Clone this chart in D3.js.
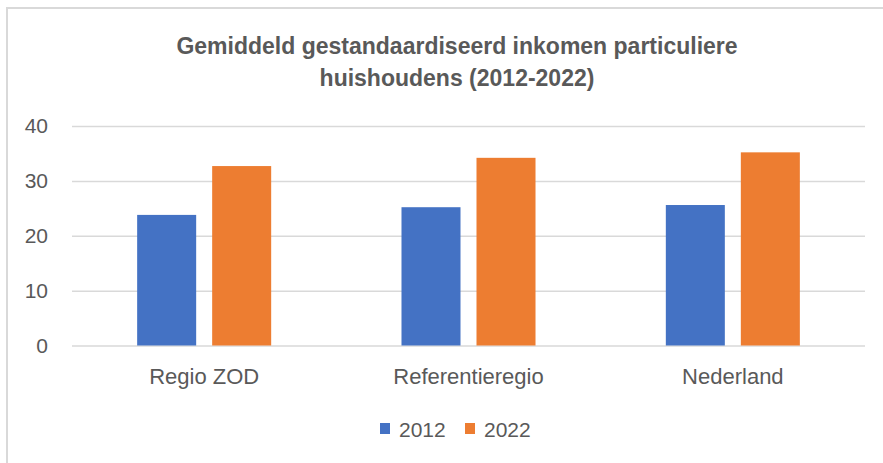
<!DOCTYPE html>
<html>
<head>
<meta charset="utf-8">
<script src="https://cdn.jsdelivr.net/npm/d3@7"></script>
<style>
html,body{margin:0;padding:0;background:#fff;}
svg{display:block;font-family:"Liberation Sans",Arial,sans-serif;}
</style>
</head>
<body>
<svg id="chart" width="883" height="463"></svg>
<script>
const titleLines = ["Gemiddeld gestandaardiseerd inkomen particuliere", "huishoudens (2012-2022)"];
const categories = ["Regio ZOD", "Referentieregio", "Nederland"];
const seriesNames = ["2012", "2022"];
const values2012 = [23.8, 25.2, 25.6];
const values2022 = [32.7, 34.2, 35.2];
const yTicks = [0, 10, 20, 30, 40];
const colors = ["#4472C4", "#ED7D31"];

const seriesValues = [values2012, values2022];
const svg = d3.select("#chart");
const textColor = "#595959";
const gridColor = "#D9D9D9";

// outer frame
svg.append("rect").attr("x", 7).attr("y", 8).attr("width", 1000).attr("height", 1000)
  .attr("fill", "#fff").attr("stroke", gridColor).attr("stroke-width", 2);

const plot = {left: 72, right: 865, top: 126, bottom: 345.5};
const centerX = 457;

const y = d3.scaleLinear().domain([0, 40]).range([plot.bottom, plot.top]);
const x0 = d3.scaleBand().domain(categories).range([plot.left, plot.right]).paddingInner(0.493).paddingOuter(0.2465);
const x1 = d3.scaleBand().domain(seriesNames).range([0, x0.bandwidth()]).paddingInner(0.2133).paddingOuter(0);

// title
const title = svg.append("text").attr("text-anchor", "middle").attr("fill", textColor)
  .attr("font-weight", "bold").attr("font-size", 23);
titleLines.forEach((t, i) => {
  title.append("tspan").attr("x", centerX).attr("y", 53.5 + i * 32.5).text(t);
});

// gridlines + y axis labels
const yAxis = d3.axisLeft(y).tickValues(yTicks).tickSize(-(plot.right - plot.left)).tickPadding(24);
const gy = svg.append("g").attr("transform", `translate(${plot.left},0)`).call(yAxis);
gy.select(".domain").remove();
gy.selectAll(".tick line").attr("stroke", gridColor).attr("stroke-width", 1.5);
gy.selectAll(".tick text").attr("fill", textColor).attr("font-size", 21)
  .attr("font-family", "Liberation Sans, Arial, sans-serif");

// bars
const groups = svg.append("g").selectAll("g").data(categories).join("g")
  .attr("transform", d => `translate(${x0(d)},0)`);
groups.selectAll("rect").data((c, ci) => seriesNames.map((s, si) => ({s, si, v: seriesValues[si][ci]})))
  .join("rect")
  .attr("x", d => x1(d.s))
  .attr("width", x1.bandwidth())
  .attr("y", d => y(d.v))
  .attr("height", d => y(0) - y(d.v))
  .attr("fill", d => colors[d.si]);

// x axis labels
const xAxis = d3.axisBottom(x0).tickSize(0).tickPadding(0);
const gx = svg.append("g").attr("transform", `translate(0,${plot.bottom})`).call(xAxis);
gx.select(".domain").remove();
gx.selectAll(".tick text").attr("fill", textColor).attr("font-size", 22)
  .attr("font-family", "Liberation Sans, Arial, sans-serif")
  .attr("dy", null).attr("y", 384 - plot.bottom);

// legend
const legendItems = [{x: 380}, {x: 465}];
const lg = svg.append("g");
seriesNames.forEach((s, i) => {
  lg.append("rect").attr("x", legendItems[i].x).attr("y", 423).attr("width", 10).attr("height", 11).attr("fill", colors[i]);
  lg.append("text").attr("x", legendItems[i].x + 19).attr("y", 437).attr("fill", textColor)
    .attr("font-size", 21).text(s);
});
</script>
</body>
</html>
